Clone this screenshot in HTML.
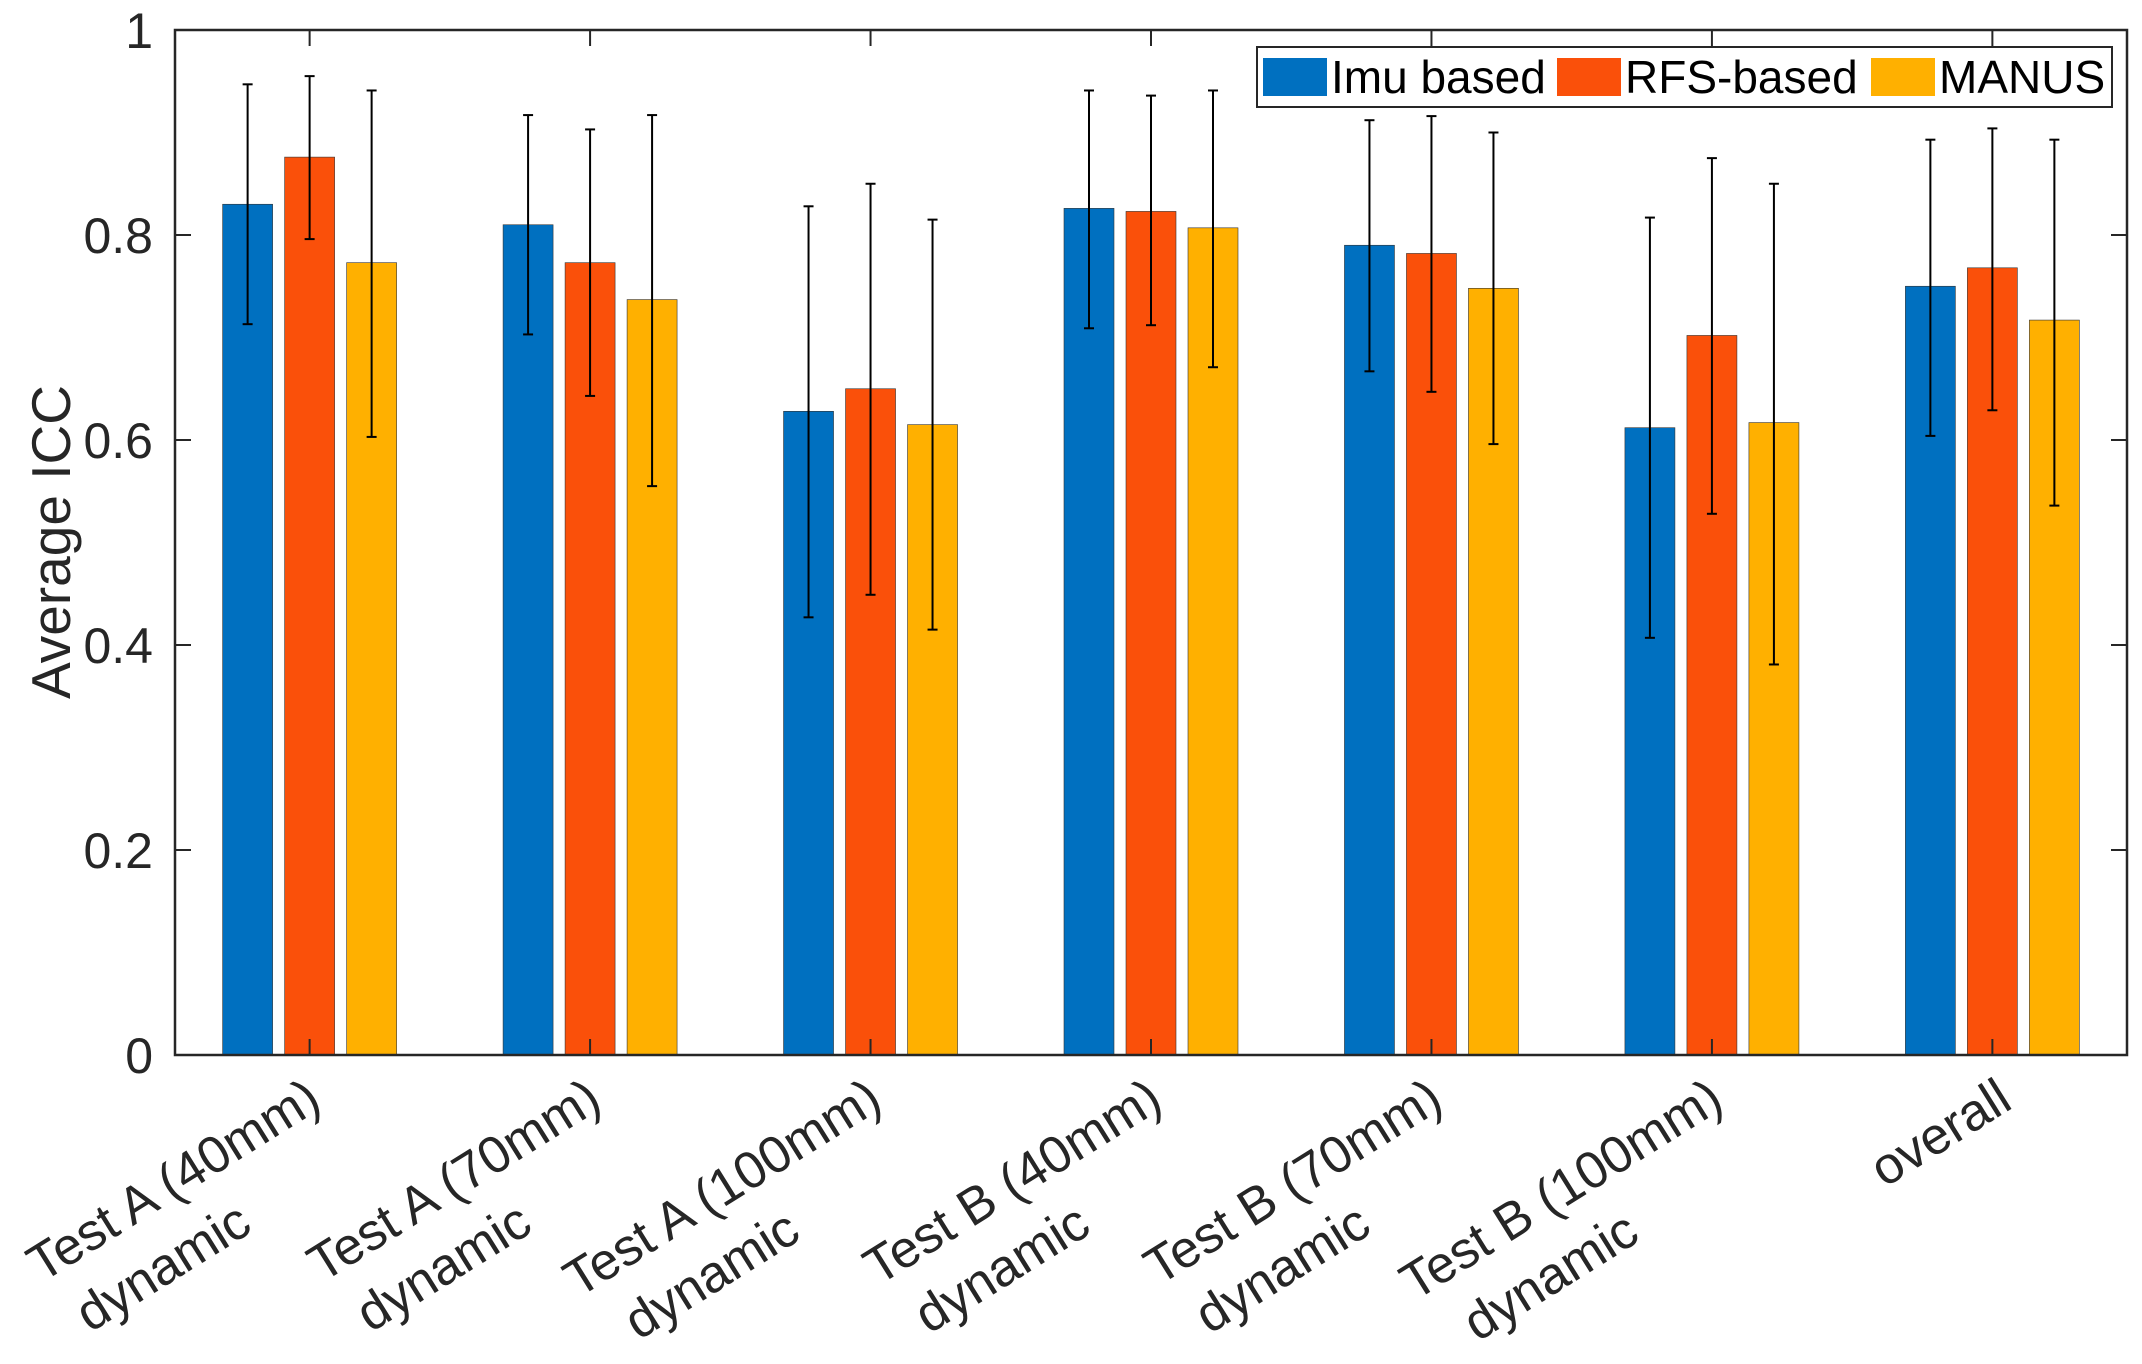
<!DOCTYPE html>
<html><head><meta charset="utf-8"><style>
html,body{margin:0;padding:0;background:#fff;}
svg{display:block;font-family:"Liberation Sans",sans-serif;}
</style></head><body>
<svg id="chart" width="2142" height="1364" viewBox="0 0 2142 1364" xmlns="http://www.w3.org/2000/svg"></svg>
<script>
const categories = [["Test A (40mm)","dynamic"],["Test A (70mm)","dynamic"],["Test A (100mm)","dynamic"],["Test B (40mm)","dynamic"],["Test B (70mm)","dynamic"],["Test B (100mm)","dynamic"],["overall"]];
const seriesNames = ["Imu based","RFS-based","MANUS"];
const imuValues = [0.83,0.81,0.628,0.826,0.79,0.612,0.75];
const rfsValues = [0.876,0.773,0.65,0.823,0.782,0.702,0.768];
const manusValues = [0.773,0.737,0.615,0.807,0.748,0.617,0.717];
const imuHigh = [0.947,0.917,0.828,0.941,0.912,0.817,0.893];
const imuLow = [0.713,0.703,0.427,0.709,0.667,0.407,0.604];
const rfsHigh = [0.955,0.903,0.85,0.936,0.916,0.875,0.904];
const rfsLow = [0.796,0.643,0.449,0.712,0.647,0.528,0.629];
const manusHigh = [0.941,0.917,0.815,0.941,0.9,0.85,0.893];
const manusLow = [0.603,0.555,0.415,0.671,0.596,0.381,0.536];
const yTicks = [0,0.2,0.4,0.6,0.8,1];
const yTickLabels = ["0","0.2","0.4","0.6","0.8","1"];

const NS="http://www.w3.org/2000/svg";
const svg=document.getElementById('chart');
const L=175,R=2127,T=30,B=1055;
const xmin=0.52,xmax=7.48;
function xs(v){return L+(v-xmin)/(xmax-xmin)*(R-L);}
function ys(v){return B-v*(B-T);}
function mk(tag,attrs){const e=document.createElementNS(NS,tag);for(const k in attrs)e.setAttribute(k,attrs[k]);svg.appendChild(e);return e;}
const colors=["#0070C0","#FA500A","#FFB000"];
const vals=[imuValues,rfsValues,manusValues];
const highs=[imuHigh,rfsHigh,manusHigh];
const lows=[imuLow,rfsLow,manusLow];
const bw=50,off=62;
for(let s=0;s<3;s++){
  for(let i=0;i<categories.length;i++){
    const cx=xs(i+1)+(s-1)*off;
    const r=mk('rect',{x:cx-bw/2,y:ys(vals[s][i]),width:bw,height:ys(0)-ys(vals[s][i]),fill:colors[s],stroke:'#333','stroke-width':0.6});
    
    
  }
}
for(let s=0;s<3;s++){
  for(let i=0;i<categories.length;i++){
    const cx=xs(i+1)+(s-1)*off;
    const g=document.createElementNS(NS,'g');svg.appendChild(g);
    
    
    const yh=ys(highs[s][i]),yl=ys(lows[s][i]);
    [[cx,yh,cx,yl],[cx-5,yh,cx+5,yh],[cx-5,yl,cx+5,yl]].forEach(p=>{
      const l=document.createElementNS(NS,'line');
      l.setAttribute('x1',p[0]);l.setAttribute('y1',p[1]);l.setAttribute('x2',p[2]);l.setAttribute('y2',p[3]);
      l.setAttribute('stroke','#000');l.setAttribute('stroke-width',2);g.appendChild(l);
    });
  }
}
const box=mk('rect',{x:L,y:T,width:R-L,height:B-T,fill:'none',stroke:'#262626','stroke-width':2.5});


for(let k=0;k<yTicks.length;k++){
  const y=ys(yTicks[k]);
  mk('line',{x1:L,y1:y,x2:L+16,y2:y,stroke:'#262626','stroke-width':2});
  mk('line',{x1:R,y1:y,x2:R-16,y2:y,stroke:'#262626','stroke-width':2});
  const t=mk('text',{x:L-22,y:y+18,'text-anchor':'end','font-size':50,fill:'#262626'});
  t.textContent=yTickLabels[k];
  
  
}
const ang=32,rad=ang*Math.PI/180,lh=68,shift=55;
for(let i=0;i<categories.length;i++){
  const x=xs(i+1);
  mk('line',{x1:x,y1:B,x2:x,y2:B-16,stroke:'#262626','stroke-width':2});
  mk('line',{x1:x,y1:T,x2:x,y2:T+16,stroke:'#262626','stroke-width':2});
  const ex=x+(categories[i].length>1?14:22), ey=1107;
  const t1=mk('text',{x:ex,y:ey,'text-anchor':'end','font-size':52,fill:'#262626',transform:`rotate(-${ang} ${ex} ${ey})`});
  t1.textContent=categories[i][0];
  
  
  if(categories[i].length>1){
    const Ln=t1.getComputedTextLength();
    const a=Ln/2+shift;
    const c1x=ex-a*Math.cos(rad), c1y=ey+a*Math.sin(rad);
    const c2x=c1x+lh*Math.sin(rad), c2y=c1y+lh*Math.cos(rad);
    const t2=mk('text',{x:c2x,y:c2y,'text-anchor':'middle','font-size':52,fill:'#262626',transform:`rotate(-${ang} ${c2x} ${c2y})`});
    t2.textContent=categories[i][1];
    
    
  }
}
const yl=mk('text',{x:70,y:542,'text-anchor':'middle','font-size':55,fill:'#262626',transform:'rotate(-90 70 542)'});
yl.textContent='Average ICC';


const lg=mk('rect',{x:1257,y:47,width:855,height:60,fill:'#fff',stroke:'#262626','stroke-width':2});


const lx=[1263,1557,1871];
for(let s=0;s<3;s++){
  const sw=mk('rect',{x:lx[s],y:58,width:64,height:38,fill:colors[s]});
  
  
  const t=mk('text',{x:lx[s]+68,y:93,'font-size':46,fill:'#000'});
  t.textContent=seriesNames[s];
  
  
}
</script>
</body></html>
